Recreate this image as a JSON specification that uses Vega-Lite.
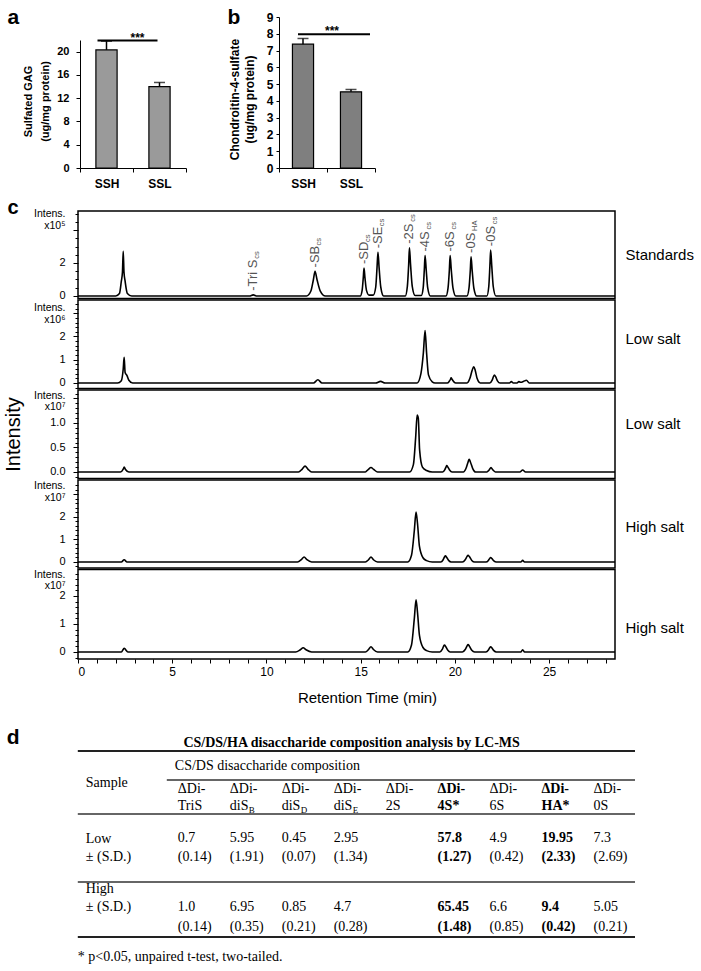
{
"$schema": "https://vega.github.io/schema/vega-lite/v6.json",
"width": 701, "height": 971, "autosize": {"type": "none"}, "padding": 0,
"config": {"view": {"stroke": null}, "font": "Liberation Sans", "text": {"font": "Liberation Sans"},
  "axis": {"grid": false, "domainColor": "black", "tickColor": "black", "labelColor": "black", "titleColor": "black", "labelFont": "Liberation Sans", "titleFont": "Liberation Sans", "domainWidth": 1, "tickWidth": 1}},
"datasets": {
"p1": [{"t":0,"v":0},{"t":2.0,"v":0},{"t":2.2,"v":0.15},{"t":2.3,"v":0.9},{"t":2.36,"v":1.45},{"t":2.4,"v":2.71},{"t":2.44,"v":1.45},{"t":2.5,"v":0.9},{"t":2.62,"v":0.15},{"t":2.85,"v":0},
{"t":9.1,"v":0},{"t":9.3,"v":0.07},{"t":9.5,"v":0},
{"t":12.13,"v":0},{"t":12.36,"v":0.3},{"t":12.49,"v":0.97},{"t":12.58,"v":1.49},{"t":12.69,"v":0.97},{"t":12.86,"v":0.3},{"t":13.13,"v":0},
{"t":14.98,"v":0},{"t":15.08,"v":0.34},{"t":15.14,"v":1.1},{"t":15.18,"v":1.69},{"t":15.23,"v":1.1},{"t":15.31,"v":0.34},{"t":15.45,"v":0.05},
{"t":15.67,"v":0.05},{"t":15.8,"v":0.53},{"t":15.87,"v":1.72},{"t":15.92,"v":2.65},{"t":15.98,"v":1.72},{"t":16.07,"v":0.53},{"t":16.22,"v":0},
{"t":17.37,"v":0},{"t":17.48,"v":0.58},{"t":17.55,"v":1.9},{"t":17.59,"v":2.92},{"t":17.65,"v":1.9},{"t":17.74,"v":0.58},{"t":17.89,"v":0.03},
{"t":18.22,"v":0.03},{"t":18.32,"v":0.49},{"t":18.38,"v":1.59},{"t":18.42,"v":2.45},{"t":18.48,"v":1.59},{"t":18.56,"v":0.49},{"t":18.7,"v":0},
{"t":19.53,"v":0},{"t":19.64,"v":0.49},{"t":19.71,"v":1.59},{"t":19.75,"v":2.45},{"t":19.81,"v":1.59},{"t":19.9,"v":0.49},{"t":20.05,"v":0},
{"t":20.64,"v":0},{"t":20.75,"v":0.47},{"t":20.82,"v":1.54},{"t":20.86,"v":2.37},{"t":20.92,"v":1.54},{"t":21.01,"v":0.47},{"t":21.16,"v":0},
{"t":21.7,"v":0},{"t":21.8,"v":0.56},{"t":21.86,"v":1.81},{"t":21.9,"v":2.78},{"t":21.96,"v":1.81},{"t":22.04,"v":0.56},{"t":22.18,"v":0},
{"t":28.5,"v":0}],
"p2": [{"t":0,"v":0},{"t":2.1,"v":0},{"t":2.3,"v":0.1},{"t":2.4,"v":0.6},{"t":2.45,"v":1.1},{"t":2.5,"v":0.45},{"t":2.6,"v":0.32},{"t":2.7,"v":0.12},{"t":2.9,"v":0},
{"t":12.5,"v":0},{"t":12.73,"v":0.14},{"t":12.95,"v":0},
{"t":15.8,"v":0},{"t":16.06,"v":0.07},{"t":16.3,"v":0},
{"t":18.0,"v":0},{"t":18.2,"v":0.4},{"t":18.33,"v":1.3},{"t":18.42,"v":2.26},{"t":18.5,"v":1.3},{"t":18.6,"v":0.35},{"t":18.8,"v":0.05},{"t":18.95,"v":0},
{"t":19.6,"v":0},{"t":19.7,"v":0.07},{"t":19.77,"v":0.16},{"t":19.8,"v":0.22},{"t":19.86,"v":0.15},{"t":19.95,"v":0.05},{"t":20.05,"v":0},
{"t":20.65,"v":0},{"t":20.8,"v":0.2},{"t":20.92,"v":0.55},{"t":21.0,"v":0.7},{"t":21.08,"v":0.55},{"t":21.18,"v":0.2},{"t":21.35,"v":0},
{"t":21.85,"v":0},{"t":21.98,"v":0.12},{"t":22.05,"v":0.28},{"t":22.1,"v":0.34},{"t":22.17,"v":0.26},{"t":22.27,"v":0.08},{"t":22.4,"v":0},
{"t":22.9,"v":0},{"t":23.0,"v":0.06},{"t":23.1,"v":0},{"t":23.3,"v":0},{"t":23.4,"v":0.06},{"t":23.5,"v":0.03},{"t":23.65,"v":0.07},{"t":23.8,"v":0.12},{"t":23.95,"v":0},
{"t":28.5,"v":0}],
"p3": [{"t":0,"v":0},{"t":2.25,"v":0},{"t":2.4,"v":0.06},{"t":2.45,"v":0.1},{"t":2.52,"v":0.05},{"t":2.7,"v":0},
{"t":11.7,"v":0},{"t":11.9,"v":0.06},{"t":12.05,"v":0.12},{"t":12.2,"v":0.06},{"t":12.4,"v":0},
{"t":15.25,"v":0},{"t":15.4,"v":0.05},{"t":15.55,"v":0.09},{"t":15.7,"v":0.05},{"t":15.9,"v":0},
{"t":17.6,"v":0},{"t":17.8,"v":0.15},{"t":17.92,"v":0.7},{"t":18.0,"v":1.16},{"t":18.06,"v":1.1},{"t":18.13,"v":0.45},{"t":18.28,"v":0.1},{"t":18.5,"v":0.03},{"t":18.8,"v":0},
{"t":19.35,"v":0},{"t":19.47,"v":0.05},{"t":19.53,"v":0.1},{"t":19.57,"v":0.13},{"t":19.63,"v":0.1},{"t":19.72,"v":0.04},{"t":19.85,"v":0},
{"t":20.45,"v":0},{"t":20.6,"v":0.08},{"t":20.7,"v":0.2},{"t":20.76,"v":0.26},{"t":20.83,"v":0.2},{"t":20.95,"v":0.07},{"t":21.1,"v":0},
{"t":21.7,"v":0},{"t":21.82,"v":0.04},{"t":21.92,"v":0.09},{"t":22.0,"v":0.05},{"t":22.15,"v":0},
{"t":23.45,"v":0},{"t":23.6,"v":0.04},{"t":23.75,"v":0},
{"t":28.5,"v":0}],
"p4": [{"t":0,"v":0},{"t":2.3,"v":0},{"t":2.45,"v":0.1},{"t":2.6,"v":0},
{"t":11.65,"v":0},{"t":11.85,"v":0.1},{"t":12.0,"v":0.22},{"t":12.15,"v":0.1},{"t":12.4,"v":0},
{"t":15.25,"v":0},{"t":15.42,"v":0.1},{"t":15.55,"v":0.22},{"t":15.68,"v":0.1},{"t":15.9,"v":0},
{"t":17.5,"v":0},{"t":17.7,"v":0.3},{"t":17.85,"v":1.4},{"t":17.94,"v":2.22},{"t":18.02,"v":1.7},{"t":18.12,"v":0.7},{"t":18.3,"v":0.2},{"t":18.5,"v":0.06},{"t":18.8,"v":0},
{"t":19.25,"v":0},{"t":19.38,"v":0.1},{"t":19.45,"v":0.22},{"t":19.5,"v":0.27},{"t":19.57,"v":0.2},{"t":19.68,"v":0.06},{"t":19.8,"v":0},
{"t":20.4,"v":0},{"t":20.55,"v":0.1},{"t":20.65,"v":0.25},{"t":20.7,"v":0.3},{"t":20.77,"v":0.24},{"t":20.9,"v":0.07},{"t":21.05,"v":0},
{"t":21.65,"v":0},{"t":21.78,"v":0.07},{"t":21.85,"v":0.16},{"t":21.9,"v":0.2},{"t":21.97,"v":0.15},{"t":22.07,"v":0.05},{"t":22.2,"v":0},
{"t":23.5,"v":0},{"t":23.6,"v":0.07},{"t":23.7,"v":0},
{"t":28.5,"v":0}],
"p5": [{"t":0,"v":0},{"t":2.3,"v":0},{"t":2.45,"v":0.13},{"t":2.65,"v":0},
{"t":11.55,"v":0},{"t":11.8,"v":0.08},{"t":11.95,"v":0.15},{"t":12.1,"v":0.08},{"t":12.4,"v":0},
{"t":15.25,"v":0},{"t":15.42,"v":0.09},{"t":15.55,"v":0.19},{"t":15.68,"v":0.09},{"t":15.9,"v":0},
{"t":17.5,"v":0},{"t":17.7,"v":0.25},{"t":17.85,"v":1.2},{"t":17.94,"v":1.86},{"t":18.02,"v":1.4},{"t":18.12,"v":0.6},{"t":18.3,"v":0.17},{"t":18.5,"v":0.05},{"t":18.8,"v":0},
{"t":19.2,"v":0},{"t":19.33,"v":0.09},{"t":19.4,"v":0.2},{"t":19.45,"v":0.25},{"t":19.52,"v":0.19},{"t":19.63,"v":0.06},{"t":19.75,"v":0},
{"t":20.4,"v":0},{"t":20.55,"v":0.09},{"t":20.65,"v":0.22},{"t":20.7,"v":0.27},{"t":20.77,"v":0.21},{"t":20.9,"v":0.06},{"t":21.05,"v":0},
{"t":21.65,"v":0},{"t":21.78,"v":0.07},{"t":21.85,"v":0.15},{"t":21.9,"v":0.19},{"t":21.97,"v":0.14},{"t":22.07,"v":0.05},{"t":22.2,"v":0},
{"t":23.5,"v":0},{"t":23.6,"v":0.08},{"t":23.7,"v":0},
{"t":28.5,"v":0}],
"lab": [{"t":9.3,"v":0.07,"l":"-Tri S","s":"cs"},{"t":12.58,"v":1.49,"l":"-SB","s":"cs"},{"t":15.18,"v":1.69,"l":"-SD","s":"cs"},{"t":15.92,"v":2.65,"l":"-SE","s":"cs"},{"t":17.59,"v":2.92,"l":"-2S","s":"cs"},{"t":18.42,"v":2.45,"l":"-4S","s":"cs"},{"t":19.75,"v":2.45,"l":"-6S","s":"cs"},{"t":20.86,"v":2.37,"l":"-0S","s":"HA"},{"t":21.9,"v":2.78,"l":"-0S","s":"cs"}],
"hdr": [{"c":"TriS","t":"ΔDi-\nTriS"},{"c":"diSB","t":"ΔDi-\ndiS"},{"c":"diSD","t":"ΔDi-\ndiS"},{"c":"diSE","t":"ΔDi-\ndiS"},{"c":"2S","t":"ΔDi-\n2S"},{"c":"4S","t":"ΔDi-\n4S*"},{"c":"6S","t":"ΔDi-\n6S"},{"c":"HA","t":"ΔDi-\nHA*"},{"c":"0S","t":"ΔDi-\n0S"}],
"sub": [{"c":"diSB","s":"B"},{"c":"diSD","s":"D"},{"c":"diSE","s":"E"}],
"vals": [{"c":"TriS","r":"low","t":"0.7\n(0.14)"},{"c":"diSB","r":"low","t":"5.95\n(1.91)"},{"c":"diSD","r":"low","t":"0.45\n(0.07)"},{"c":"diSE","r":"low","t":"2.95\n(1.34)"},{"c":"4S","r":"low","t":"57.8\n(1.27)"},{"c":"6S","r":"low","t":"4.9\n(0.42)"},{"c":"HA","r":"low","t":"19.95\n(2.33)"},{"c":"0S","r":"low","t":"7.3\n(2.69)"},
{"c":"TriS","r":"high","t":"1.0\n(0.14)"},{"c":"diSB","r":"high","t":"6.95\n(0.35)"},{"c":"diSD","r":"high","t":"0.85\n(0.21)"},{"c":"diSE","r":"high","t":"4.7\n(0.28)"},{"c":"4S","r":"high","t":"65.45\n(1.48)"},{"c":"6S","r":"high","t":"6.6\n(0.85)"},{"c":"HA","r":"high","t":"9.4\n(0.42)"},{"c":"0S","r":"high","t":"5.05\n(0.21)"}],
"samp": [{"r":"low","t":"Low\n± (S.D.)"},{"r":"high","t":"High\n ± (S.D.)"}]
},
"layer": [
{
 "data": {"values": [{"g":"SSH","m":20.3,"e":21.8},{"g":"SSL","m":14.0,"e":14.7}]},
 "layer": [
  {"mark": {"type":"bar","width":{"band":0.4},"color":"#9a9a9a","stroke":"black","strokeWidth":1.2},
   "encoding": {
    "x": {"field":"g","type":"nominal","scale":{"type":"band","domain":["SSH","SSL"],"range":[80,186],"paddingInner":0,"paddingOuter":0},
      "axis": {"orient":"bottom","offset":-803,"tickBand":"extent","tickSize":4,"labelAngle":0,"labelFontSize":12,"labelFontWeight":"bold","labelPadding":6,"title":"a","titleX":7,"titleY":-145,"titleAngle":0,"titleAlign":"left","titleBaseline":"alphabetic","titleFontSize":21,"titleFontWeight":"bold"}},
    "y": {"field":"m","type":"quantitative","scale":{"domain":[0,22],"range":[168,40],"nice":false,"zero":false},
      "axis": {"orient":"left","offset":-80,"values":[0,4,8,12,16,20],"tickSize":4,"labelPadding":7,"labelFontSize":11,"labelFontWeight":"bold","title":["Sulfated GAG","(ug/mg protein)"],"titleX":-52,"titleY":101,"titleAngle":270,"titleAlign":"center","titleBaseline":"middle","titleLineHeight":17,"titleFontSize":11,"titleFontWeight":"bold"}}
   }},
  {"mark": {"type":"rule","color":"black","strokeWidth":1.5},"encoding":{"x":{"field":"g","type":"nominal"},"y":{"field":"m","type":"quantitative"},"y2":{"field":"e"}}},
  {"mark": {"type":"tick","color":"black","thickness":1.5,"size":11},"encoding":{"x":{"field":"g","type":"nominal"},"y":{"field":"e","type":"quantitative"}}},
  {"data":{"values":[{"s":"***"}]},"mark":{"type":"rule","color":"black","strokeWidth":2,"xOffset":-9,"x2Offset":-2},"encoding":{"x":{"datum":"SSH","type":"nominal"},"x2":{"datum":"SSL"},"y":{"datum":21.9,"type":"quantitative"}}},
  {"data":{"values":[{"s":"***"}]},"mark":{"type":"text","fontSize":12,"fontWeight":"bold","baseline":"alphabetic","xOffset":31,"yOffset":1},"encoding":{"x":{"datum":"SSH","type":"nominal"},"y":{"datum":21.9,"type":"quantitative"},"text":{"field":"s"}}}
 ]
},
{
 "data": {"values": [{"g":"SSH","m":7.38,"e":7.72},{"g":"SSL","m":4.54,"e":4.68}]},
 "layer": [
  {"mark": {"type":"bar","width":{"band":0.44},"color":"#7f7f7f","stroke":"black","strokeWidth":1.2},
   "encoding": {
    "x": {"field":"g","type":"nominal","scale":{"type":"band","domain":["SSH","SSL"],"range":[279,375],"paddingInner":0,"paddingOuter":0},
      "axis": {"orient":"bottom","offset":-803,"tickBand":"extent","tickSize":4,"labelAngle":0,"labelFontSize":12,"labelFontWeight":"bold","labelPadding":6,"title":"b","titleX":227,"titleY":-145,"titleAngle":0,"titleAlign":"left","titleBaseline":"alphabetic","titleFontSize":21,"titleFontWeight":"bold"}},
    "y": {"field":"m","type":"quantitative","scale":{"domain":[0,9],"range":[168,17],"nice":false,"zero":false},
      "axis": {"orient":"left","offset":-279,"values":[0,1,2,3,4,5,6,7,8,9],"format":"d","tickSize":3,"labelPadding":3,"labelFontSize":12,"labelFontWeight":"bold","title":["Chondroitin-4-sulfate","(ug/mg protein)"],"titleX":-45,"titleY":99,"titleAngle":270,"titleAlign":"center","titleBaseline":"middle","titleLineHeight":15,"titleFontSize":12,"titleFontWeight":"bold"}}
   }},
  {"mark": {"type":"rule","color":"black","strokeWidth":1.5},"encoding":{"x":{"field":"g","type":"nominal"},"y":{"field":"m","type":"quantitative"},"y2":{"field":"e"}}},
  {"mark": {"type":"tick","color":"black","thickness":1.5,"size":11},"encoding":{"x":{"field":"g","type":"nominal"},"y":{"field":"e","type":"quantitative"}}},
  {"data":{"values":[{"s":"***"}]},"mark":{"type":"rule","color":"black","strokeWidth":2,"xOffset":-5,"x2Offset":19},"encoding":{"x":{"datum":"SSH","type":"nominal"},"x2":{"datum":"SSL"},"y":{"datum":7.97,"type":"quantitative"}}},
  {"data":{"values":[{"s":"***"}]},"mark":{"type":"text","fontSize":12,"fontWeight":"bold","baseline":"alphabetic","xOffset":29,"yOffset":1},"encoding":{"x":{"datum":"SSH","type":"nominal"},"y":{"datum":7.97,"type":"quantitative"},"text":{"field":"s"}}}
 ]
},
{
 "layer": [
  {"data":{"values":[{}]},"mark":{"type":"rect","filled":false,"color":"black","strokeWidth":1.5},
   "encoding":{"x":{"datum":0,"type":"quantitative","scale":{"domain":[0,28.5],"range":[78,615],"nice":false,"zero":false},"axis":null},"x2":{"datum":28.5},
     "y":{"datum":-0.152,"type":"quantitative","scale":{"domain":[-0.152,5.152],"range":[298.5,211],"nice":false,"zero":false},"axis":null},"y2":{"datum":5.152}}},
  {"data":{"name":"p1"},"mark":{"type":"line","color":"black","strokeWidth":1.6,"interpolate":"monotone"},
   "encoding":{"x":{"field":"t","type":"quantitative","axis":null},
     "y":{"field":"v","type":"quantitative","axis":{"orient":"left","offset":-78,"values":[0,2,4],"labelExpr":"datum.value < 3 ? datum.label : ''","domain":false,"tickSize":5,"labelPadding":8,"labelFontSize":11,"title":["Intens.","x10⁵"],"titleAngle":0,"titleAlign":"right","titleBaseline":"middle","titleX":-13,"titleY":213,"titleLineHeight":12,"titleFontSize":10.5,"titleFontWeight":"normal"}}}},
  {"data":{"name":"p1"},"mark":{"type":"line","opacity":0},
   "encoding":{"x":{"field":"t","type":"quantitative","axis":null},
     "y":{"field":"v","type":"quantitative","axis":{"orient":"left","offset":-78,"values":[0.5,1,1.5,2.5,3,3.5,4.5,5],"labels":false,"domain":false,"tickSize":3,"title":"c","titleX":-71,"titleY":213,"titleAngle":0,"titleAlign":"left","titleBaseline":"alphabetic","titleFontSize":20,"titleFontWeight":"bold"}}}},
  {"data":{"name":"p1"},"mark":{"type":"line","opacity":0},
   "encoding":{"x":{"field":"t","type":"quantitative","axis":null},
     "y":{"field":"v","type":"quantitative","axis":{"orient":"right","offset":-86,"domain":false,"ticks":false,"labels":false,"title":"Standards","titleX":10,"titleY":254,"titleAngle":0,"titleAlign":"left","titleBaseline":"middle","titleFontSize":15,"titleFontWeight":"normal"}}}},
  {"data":{"name":"lab"},"mark":{"type":"text","angle":270,"align":"left","baseline":"middle","dx":4,"fontSize":13,"color":"#555555"},
   "encoding":{"x":{"field":"t","type":"quantitative","axis":null},"y":{"field":"v","type":"quantitative","axis":null},"text":{"field":"l"}}},
  {"data":{"name":"lab"},"transform":[{"filter":"length(datum.l) == 3"}],"mark":{"type":"text","angle":270,"align":"left","baseline":"middle","dx":26,"dy":4,"fontSize":7.5,"color":"#555555"},
   "encoding":{"x":{"field":"t","type":"quantitative","axis":null},"y":{"field":"v","type":"quantitative","axis":null},"text":{"field":"s"}}},
  {"data":{"name":"lab"},"transform":[{"filter":"length(datum.l) > 3"}],"mark":{"type":"text","angle":270,"align":"left","baseline":"middle","dx":36,"dy":4,"fontSize":7.5,"color":"#555555"},
   "encoding":{"x":{"field":"t","type":"quantitative","axis":null},"y":{"field":"v","type":"quantitative","axis":null},"text":{"field":"s"}}}
 ],
 "resolve": {"axis": {"y": "independent"}}
},
{
 "layer": [
  {"data":{"values":[{}]},"mark":{"type":"rect","filled":false,"color":"black","strokeWidth":1.5},
   "encoding":{"x":{"datum":0,"type":"quantitative","scale":{"domain":[0,28.5],"range":[78,615],"nice":false,"zero":false},"axis":null},"x2":{"datum":28.5},
     "y":{"datum":-0.237,"type":"quantitative","scale":{"domain":[-0.237,3.57],"range":[388.5,300],"nice":false,"zero":false},"axis":null},"y2":{"datum":3.57}}},
  {"data":{"name":"p2"},"mark":{"type":"line","color":"black","strokeWidth":1.6,"interpolate":"monotone"},
   "encoding":{"x":{"field":"t","type":"quantitative","axis":null},
     "y":{"field":"v","type":"quantitative","axis":{"orient":"left","offset":-78,"values":[0,1,2,3],"labelExpr":"datum.value < 2.5 ? datum.label : ''","domain":false,"tickSize":5,"labelPadding":8,"labelFontSize":11,"title":["Intens.","x10⁶"],"titleAngle":0,"titleAlign":"right","titleBaseline":"middle","titleX":-13,"titleY":307.5,"titleLineHeight":11.5,"titleFontSize":10.5,"titleFontWeight":"normal"}}}},
  {"data":{"name":"p2"},"mark":{"type":"line","opacity":0},
   "encoding":{"x":{"field":"t","type":"quantitative","axis":null},
     "y":{"field":"v","type":"quantitative","axis":{"orient":"left","offset":-78,"values":[-0.2,0.2,0.4,0.6,0.8,1.2,1.4,1.6,1.8,2.2,2.4,2.6,2.8,3.2,3.4],"labels":false,"domain":false,"tickSize":3,"title":null}}}},
  {"data":{"name":"p2"},"mark":{"type":"line","opacity":0},
   "encoding":{"x":{"field":"t","type":"quantitative","axis":null},
     "y":{"field":"v","type":"quantitative","axis":{"orient":"right","offset":-86,"domain":false,"ticks":false,"labels":false,"title":"Low salt","titleX":10,"titleY":338,"titleAngle":0,"titleAlign":"left","titleBaseline":"middle","titleFontSize":15,"titleFontWeight":"normal"}}}}
 ],
 "resolve": {"axis": {"y": "independent"}}
},
{
 "layer": [
  {"data":{"values":[{}]},"mark":{"type":"rect","filled":false,"color":"black","strokeWidth":1.5},
   "encoding":{"x":{"datum":0,"type":"quantitative","scale":{"domain":[0,28.5],"range":[78,615],"nice":false,"zero":false},"axis":null},"x2":{"datum":28.5},
     "y":{"datum":-0.133,"type":"quantitative","scale":{"domain":[-0.133,1.673],"range":[478.5,390],"nice":false,"zero":false},"axis":null},"y2":{"datum":1.673}}},
  {"data":{"name":"p3"},"mark":{"type":"line","color":"black","strokeWidth":1.6,"interpolate":"monotone"},
   "encoding":{"x":{"field":"t","type":"quantitative","axis":null},
     "y":{"field":"v","type":"quantitative","axis":{"orient":"left","offset":-78,"values":[0,0.5,1,1.5],"format":".1f","labelExpr":"datum.value < 1.2 ? datum.label : ''","domain":false,"tickSize":5,"labelPadding":8,"labelFontSize":11,"title":["Intens.","x10⁷"],"titleAngle":0,"titleAlign":"right","titleBaseline":"middle","titleX":-13,"titleY":395,"titleLineHeight":11,"titleFontSize":10.5,"titleFontWeight":"normal"}}}},
  {"data":{"name":"p3"},"mark":{"type":"line","opacity":0},
   "encoding":{"x":{"field":"t","type":"quantitative","axis":null},
     "y":{"field":"v","type":"quantitative","axis":{"orient":"left","offset":-78,"values":[-0.1,0.1,0.2,0.3,0.4,0.6,0.7,0.8,0.9,1.1,1.2,1.3,1.4,1.6],"labels":false,"domain":false,"tickSize":3,"title":"Intensity","titleX":-65,"titleY":434,"titleAngle":270,"titleAlign":"center","titleBaseline":"middle","titleFontSize":20,"titleFontWeight":"normal"}}}},
  {"data":{"name":"p3"},"mark":{"type":"line","opacity":0},
   "encoding":{"x":{"field":"t","type":"quantitative","axis":null},
     "y":{"field":"v","type":"quantitative","axis":{"orient":"right","offset":-86,"domain":false,"ticks":false,"labels":false,"title":"Low salt","titleX":10,"titleY":423,"titleAngle":0,"titleAlign":"left","titleBaseline":"middle","titleFontSize":15,"titleFontWeight":"normal"}}}}
 ],
 "resolve": {"axis": {"y": "independent"}}
},
{
 "layer": [
  {"data":{"values":[{}]},"mark":{"type":"rect","filled":false,"color":"black","strokeWidth":1.5},
   "encoding":{"x":{"datum":0,"type":"quantitative","scale":{"domain":[0,28.5],"range":[78,615],"nice":false,"zero":false},"axis":null},"x2":{"datum":28.5},
     "y":{"datum":-0.267,"type":"quantitative","scale":{"domain":[-0.267,3.644],"range":[568,480],"nice":false,"zero":false},"axis":null},"y2":{"datum":3.644}}},
  {"data":{"name":"p4"},"mark":{"type":"line","color":"black","strokeWidth":1.6,"interpolate":"monotone"},
   "encoding":{"x":{"field":"t","type":"quantitative","axis":null},
     "y":{"field":"v","type":"quantitative","axis":{"orient":"left","offset":-78,"values":[0,1,2,3],"labelExpr":"datum.value < 2.5 ? datum.label : ''","domain":false,"tickSize":5,"labelPadding":8,"labelFontSize":11,"title":["Intens.","x10⁷"],"titleAngle":0,"titleAlign":"right","titleBaseline":"middle","titleX":-13,"titleY":485,"titleLineHeight":12.5,"titleFontSize":10.5,"titleFontWeight":"normal"}}}},
  {"data":{"name":"p4"},"mark":{"type":"line","opacity":0},
   "encoding":{"x":{"field":"t","type":"quantitative","axis":null},
     "y":{"field":"v","type":"quantitative","axis":{"orient":"left","offset":-78,"values":[-0.2,0.2,0.4,0.6,0.8,1.2,1.4,1.6,1.8,2.2,2.4,2.6,2.8,3.2,3.4],"labels":false,"domain":false,"tickSize":3,"title":null}}}},
  {"data":{"name":"p4"},"mark":{"type":"line","opacity":0},
   "encoding":{"x":{"field":"t","type":"quantitative","axis":null},
     "y":{"field":"v","type":"quantitative","axis":{"orient":"right","offset":-86,"domain":false,"ticks":false,"labels":false,"title":"High salt","titleX":10,"titleY":526,"titleAngle":0,"titleAlign":"left","titleBaseline":"middle","titleFontSize":15,"titleFontWeight":"normal"}}}}
 ],
 "resolve": {"axis": {"y": "independent"}}
},
{
 "layer": [
  {"data":{"values":[{}]},"mark":{"type":"rect","filled":false,"color":"black","strokeWidth":1.5},
   "encoding":{"x":{"datum":0,"type":"quantitative","scale":{"domain":[0,28.5],"range":[78,615],"nice":false,"zero":false},"axis":null},"x2":{"datum":28.5},
     "y":{"datum":-0.25,"type":"quantitative","scale":{"domain":[-0.25,2.946],"range":[659,569.5],"nice":false,"zero":false},"axis":null},"y2":{"datum":2.946}}},
  {"data":{"name":"p5"},"mark":{"type":"line","color":"black","strokeWidth":1.6,"interpolate":"monotone"},
   "encoding":{"x":{"field":"t","type":"quantitative","axis":{"orient":"bottom","offset":-312,"values":[0,1,2,3,4,5,6,7,8,9,10,11,12,13,14,15,16,17,18,19,20,21,22,23,24,25,26,27,28],"labelExpr":"datum.value % 5 === 0 ? datum.label : ''","domain":false,"tickSize":4,"labelFontSize":12,"labelPadding":3,"title":"Retention Time (min)","titleX":367,"titleY":38,"titleAlign":"center","titleBaseline":"middle","titleFontSize":15,"titleFontWeight":"normal"}},
     "y":{"field":"v","type":"quantitative","axis":{"orient":"left","offset":-78,"values":[0,1,2],"domain":false,"tickSize":5,"labelPadding":8,"labelFontSize":11,"title":["Intens.","x10⁷"],"titleAngle":0,"titleAlign":"right","titleBaseline":"middle","titleX":-13,"titleY":574,"titleLineHeight":11,"titleFontSize":10.5,"titleFontWeight":"normal"}}}},
  {"data":{"name":"p5"},"mark":{"type":"line","opacity":0},
   "encoding":{"x":{"field":"t","type":"quantitative","axis":null},
     "y":{"field":"v","type":"quantitative","axis":{"orient":"left","offset":-78,"values":[-0.2,0.2,0.4,0.6,0.8,1.2,1.4,1.6,1.8,2.2,2.4,2.6,2.8],"labels":false,"domain":false,"tickSize":3,"title":null}}}},
  {"data":{"name":"p5"},"mark":{"type":"line","opacity":0},
   "encoding":{"x":{"field":"t","type":"quantitative","axis":null},
     "y":{"field":"v","type":"quantitative","axis":{"orient":"right","offset":-86,"domain":false,"ticks":false,"labels":false,"title":"High salt","titleX":10,"titleY":627,"titleAngle":0,"titleAlign":"left","titleBaseline":"middle","titleFontSize":15,"titleFontWeight":"normal"}}}}
 ],
 "resolve": {"axis": {"x": "independent", "y": "independent"}}
},
{
 "layer": [
  {"data":{"values":[{}]},"mark":{"type":"rule","color":"#222222","strokeWidth":2,"xOffset":-100,"x2Offset":41.5,"yOffset":-46.5},
   "encoding":{"x":{"datum":"TriS","type":"nominal","scale":{"type":"point","domain":["TriS","diSB","diSD","diSE","2S","4S","6S","HA","0S"],"range":[177.8,593.5],"padding":0},"axis":null},"x2":{"datum":"0S"},
     "y":{"datum":"header","type":"nominal","scale":{"type":"point","domain":["header","low","high"],"range":[797.5,897.5],"padding":0},"axis":null}}},
  {"data":{"values":[{}]},"mark":{"type":"rule","color":"#333333","strokeWidth":1.3,"xOffset":-11,"x2Offset":41.5,"yOffset":-17.5},
   "encoding":{"x":{"datum":"TriS","type":"nominal"},"x2":{"datum":"0S"},"y":{"datum":"header","type":"nominal"}}},
  {"data":{"values":[{}]},"mark":{"type":"rule","color":"#333333","strokeWidth":1.3,"xOffset":-100,"x2Offset":41.5,"yOffset":16.5},
   "encoding":{"x":{"datum":"TriS","type":"nominal"},"x2":{"datum":"0S"},"y":{"datum":"header","type":"nominal"}}},
  {"data":{"values":[{}]},"mark":{"type":"rule","color":"#333333","strokeWidth":1.3,"xOffset":-100,"x2Offset":41.5,"yOffset":-15.5},
   "encoding":{"x":{"datum":"TriS","type":"nominal"},"x2":{"datum":"0S"},"y":{"datum":"high","type":"nominal"}}},
  {"data":{"values":[{}]},"mark":{"type":"rule","color":"#222222","strokeWidth":2,"xOffset":-100,"x2Offset":41.5,"yOffset":39.5},
   "encoding":{"x":{"datum":"TriS","type":"nominal"},"x2":{"datum":"0S"},"y":{"datum":"high","type":"nominal"}}},
  {"data":{"values":[{"t":"CS/DS/HA disaccharide composition analysis by LC-MS"}]},"mark":{"type":"text","font":"Liberation Serif","fontSize":14,"fontWeight":"bold","align":"center","baseline":"middle","xOffset":-34,"yOffset":-54.5},
   "encoding":{"x":{"datum":"2S","type":"nominal"},"y":{"datum":"header","type":"nominal"},"text":{"field":"t"}}},
  {"data":{"values":[{"t":"CS/DS disaccharide composition"}]},"mark":{"type":"text","font":"Liberation Serif","fontSize":14,"align":"left","baseline":"middle","xOffset":-3,"yOffset":-31.5},
   "encoding":{"x":{"datum":"TriS","type":"nominal"},"y":{"datum":"header","type":"nominal"},"text":{"field":"t"}}},
  {"data":{"values":[{"t":"Sample"}]},"mark":{"type":"text","font":"Liberation Serif","fontSize":14,"align":"left","baseline":"middle","xOffset":-92,"yOffset":-15},
   "encoding":{"x":{"datum":"TriS","type":"nominal"},"y":{"datum":"header","type":"nominal"},"text":{"field":"t"}}},
  {"data":{"name":"samp"},"mark":{"type":"text","font":"Liberation Serif","fontSize":14,"align":"left","baseline":"middle","lineBreak":"\n","lineHeight":17.5,"xOffset":-92,"yOffset":-8.5},
   "encoding":{"x":{"datum":"TriS","type":"nominal"},"y":{"field":"r","type":"nominal"},"text":{"field":"t"}}},
  {"data":{"name":"hdr"},"transform":[{"filter":"datum.c !== '4S' && datum.c !== 'HA'"}],"mark":{"type":"text","font":"Liberation Serif","fontSize":14,"align":"left","baseline":"middle","lineBreak":"\n","lineHeight":17,"yOffset":-8.5},
   "encoding":{"x":{"field":"c","type":"nominal"},"y":{"datum":"header","type":"nominal"},"text":{"field":"t"}}},
  {"data":{"name":"hdr"},"transform":[{"filter":"datum.c === '4S' || datum.c === 'HA'"}],"mark":{"type":"text","font":"Liberation Serif","fontSize":14,"fontWeight":"bold","align":"left","baseline":"middle","lineBreak":"\n","lineHeight":17,"yOffset":-8.5},
   "encoding":{"x":{"field":"c","type":"nominal"},"y":{"datum":"header","type":"nominal"},"text":{"field":"t"}}},
  {"data":{"name":"sub"},"mark":{"type":"text","font":"Liberation Serif","fontSize":9,"align":"left","baseline":"middle","xOffset":19,"yOffset":12.5},
   "encoding":{"x":{"field":"c","type":"nominal"},"y":{"datum":"header","type":"nominal"},"text":{"field":"s"}}},
  {"data":{"name":"vals"},"transform":[{"filter":"datum.r === 'low' && datum.c !== '4S' && datum.c !== 'HA'"}],"mark":{"type":"text","font":"Liberation Serif","fontSize":14,"align":"left","baseline":"middle","lineBreak":"\n","lineHeight":19,"yOffset":-9.5},
   "encoding":{"x":{"field":"c","type":"nominal"},"y":{"field":"r","type":"nominal"},"text":{"field":"t"}}},
  {"data":{"name":"vals"},"transform":[{"filter":"datum.r === 'low' && (datum.c === '4S' || datum.c === 'HA')"}],"mark":{"type":"text","font":"Liberation Serif","fontSize":14,"fontWeight":"bold","align":"left","baseline":"middle","lineBreak":"\n","lineHeight":19,"yOffset":-9.5},
   "encoding":{"x":{"field":"c","type":"nominal"},"y":{"field":"r","type":"nominal"},"text":{"field":"t"}}},
  {"data":{"name":"vals"},"transform":[{"filter":"datum.r === 'high' && datum.c !== '4S' && datum.c !== 'HA'"}],"mark":{"type":"text","font":"Liberation Serif","fontSize":14,"align":"left","baseline":"middle","lineBreak":"\n","lineHeight":20,"yOffset":9.5},
   "encoding":{"x":{"field":"c","type":"nominal"},"y":{"field":"r","type":"nominal"},"text":{"field":"t"}}},
  {"data":{"name":"vals"},"transform":[{"filter":"datum.r === 'high' && (datum.c === '4S' || datum.c === 'HA')"}],"mark":{"type":"text","font":"Liberation Serif","fontSize":14,"fontWeight":"bold","align":"left","baseline":"middle","lineBreak":"\n","lineHeight":20,"yOffset":9.5},
   "encoding":{"x":{"field":"c","type":"nominal"},"y":{"field":"r","type":"nominal"},"text":{"field":"t"}}},
  {"data":{"values":[{"t":"* p<0.05, unpaired t-test, two-tailed."}]},"mark":{"type":"text","font":"Liberation Serif","fontSize":14,"align":"left","baseline":"middle","xOffset":-100,"yOffset":59.5},
   "encoding":{"x":{"datum":"TriS","type":"nominal"},"y":{"datum":"high","type":"nominal"},"text":{"field":"t"}}},
  {"data":{"values":[{"t":"d"}]},"mark":{"type":"text","fontSize":21,"fontWeight":"bold","align":"left","baseline":"alphabetic","xOffset":-171,"yOffset":-53.5},
   "encoding":{"x":{"datum":"TriS","type":"nominal"},"y":{"datum":"header","type":"nominal"},"text":{"field":"t"}}}
 ]
}
],
"resolve": {"scale": {"x": "independent", "y": "independent"}}
}
